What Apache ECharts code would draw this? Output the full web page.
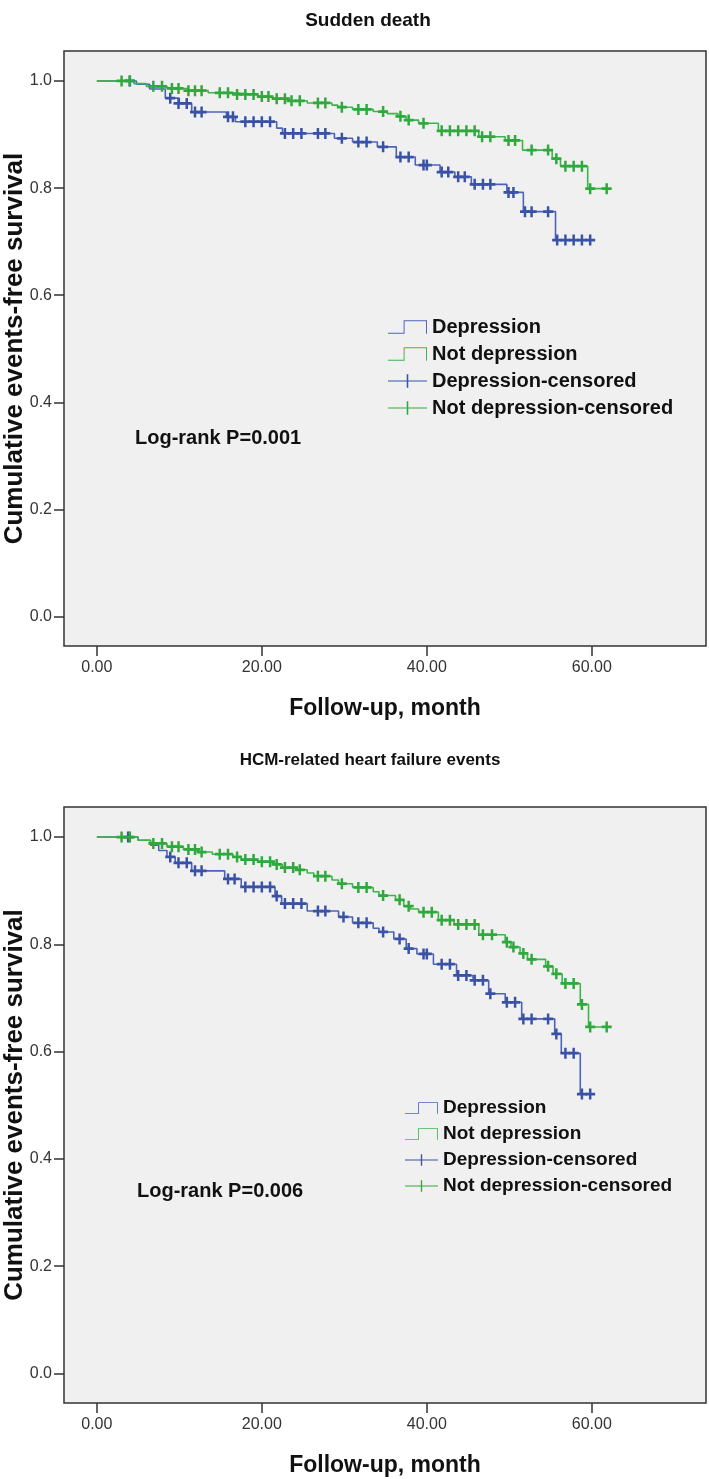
<!DOCTYPE html>
<html>
<head>
<meta charset="utf-8">
<script src="https://cdn.jsdelivr.net/npm/echarts@6/dist/echarts.min.js"></script>
<style>
html,body{margin:0;padding:0;background:#fff;}
#c{width:709px;height:1479px;}
</style>
</head>
<body>
<div id="c"></div>
<script>
// ---------- data (months, survival) ----------
const xTicks = [0, 20, 40, 60];
const yTicks = [0, 0.2, 0.4, 0.6, 0.8, 1.0];
const seriesNames = ['Depression', 'Not depression', 'Depression-censored', 'Not depression-censored'];
const chartTitles = ['Sudden death', 'HCM-related heart failure events'];
const logRankTexts = ['Log-rank P=0.001', 'Log-rank P=0.006'];

// Sudden death — Depression
const sdDepT = [0, 4.8, 6.4, 8.3, 10.0, 11.5, 15.7, 16.8, 21.8, 22.5, 28.8, 31.0, 34.0, 36.3, 38.6, 41.6, 43.4, 45.4, 49.7, 51.7, 55.6, 59.8];
const sdDepS = [1.0, 0.994, 0.985, 0.968, 0.958, 0.942, 0.933, 0.924, 0.912, 0.902, 0.893, 0.886, 0.877, 0.858, 0.843, 0.830, 0.821, 0.807, 0.792, 0.756, 0.703, 0.703];
const sdDepCensT = [4.0, 8.9, 9.9, 10.9, 11.9, 12.7, 15.9, 16.5, 18.0, 19.0, 20.0, 21.0, 22.8, 23.8, 24.8, 26.8, 27.7, 29.7, 31.7, 32.7, 34.7, 36.8, 37.8, 39.6, 40.0, 41.8, 42.6, 43.8, 44.6, 45.8, 46.8, 47.7, 49.9, 50.5, 51.9, 52.7, 54.7, 55.8, 56.8, 57.8, 58.8, 59.8];
const sdDepCensS = [1.0, 0.968, 0.958, 0.958, 0.942, 0.942, 0.933, 0.933, 0.924, 0.924, 0.924, 0.924, 0.902, 0.902, 0.902, 0.902, 0.902, 0.893, 0.886, 0.886, 0.877, 0.858, 0.858, 0.843, 0.843, 0.830, 0.830, 0.821, 0.821, 0.807, 0.807, 0.807, 0.792, 0.792, 0.756, 0.756, 0.756, 0.703, 0.703, 0.703, 0.703, 0.703];

// Sudden death — Not depression
const sdNotT = [0, 4.5, 6.0, 8.5, 11.0, 13.5, 16.5, 19.5, 21.3, 23.2, 25.5, 28.5, 29.2, 31.0, 33.5, 35.2, 36.5, 37.5, 39.0, 41.4, 46.3, 49.5, 51.6, 55.2, 56.2, 59.5, 61.8];
const sdNotS = [1.0, 0.995, 0.990, 0.986, 0.982, 0.978, 0.975, 0.971, 0.967, 0.963, 0.959, 0.955, 0.951, 0.947, 0.943, 0.939, 0.934, 0.927, 0.921, 0.907, 0.896, 0.889, 0.871, 0.855, 0.841, 0.799, 0.799];
const sdNotCensT = [3.0, 4.0, 6.85, 7.9, 9.1, 9.9, 11.1, 11.9, 12.7, 14.9, 15.9, 17.0, 18.0, 19.0, 20.0, 20.8, 21.8, 22.8, 23.6, 24.6, 26.8, 27.7, 29.7, 31.7, 32.7, 34.7, 36.8, 37.8, 39.6, 41.8, 42.8, 43.8, 44.8, 45.8, 46.7, 47.7, 49.9, 50.7, 52.7, 54.7, 55.7, 56.8, 57.8, 58.8, 59.8, 61.8];
const sdNotCensS = [1.0, 1.0, 0.990, 0.990, 0.986, 0.986, 0.982, 0.982, 0.982, 0.978, 0.978, 0.975, 0.975, 0.975, 0.971, 0.971, 0.967, 0.967, 0.963, 0.963, 0.959, 0.959, 0.951, 0.947, 0.947, 0.943, 0.934, 0.927, 0.921, 0.907, 0.907, 0.907, 0.907, 0.907, 0.896, 0.896, 0.889, 0.889, 0.871, 0.871, 0.855, 0.841, 0.841, 0.841, 0.799, 0.799];

// Heart failure — Depression
const hfDepT = [0, 5.0, 6.5, 7.5, 8.5, 9.5, 11.5, 15.5, 17.5, 21.6, 22.4, 25.5, 29.3, 31.0, 33.5, 34.2, 36.0, 37.5, 38.8, 40.8, 43.6, 45.6, 47.5, 49.5, 51.5, 55.5, 56.3, 58.6, 59.8];
const hfDepS = [1.0, 0.994, 0.985, 0.975, 0.963, 0.952, 0.937, 0.922, 0.907, 0.890, 0.876, 0.862, 0.851, 0.840, 0.830, 0.823, 0.810, 0.792, 0.782, 0.763, 0.742, 0.733, 0.708, 0.692, 0.661, 0.633, 0.597, 0.521, 0.521];
const hfDepCensT = [3.8, 8.9, 9.9, 10.9, 11.9, 12.7, 15.9, 16.7, 18.0, 19.0, 20.0, 21.0, 21.8, 22.8, 23.8, 24.8, 26.8, 27.7, 29.9, 31.7, 32.7, 34.7, 36.7, 37.8, 39.6, 40.0, 41.8, 42.8, 43.8, 44.8, 45.8, 46.8, 47.7, 49.7, 50.7, 51.7, 52.7, 54.7, 55.7, 56.8, 57.8, 58.8, 59.8];
const hfDepCensS = [1.0, 0.963, 0.952, 0.952, 0.937, 0.937, 0.922, 0.922, 0.907, 0.907, 0.907, 0.907, 0.890, 0.876, 0.876, 0.876, 0.862, 0.862, 0.851, 0.840, 0.840, 0.823, 0.810, 0.792, 0.782, 0.782, 0.763, 0.763, 0.742, 0.742, 0.733, 0.733, 0.708, 0.692, 0.692, 0.661, 0.661, 0.661, 0.633, 0.597, 0.597, 0.521, 0.521];

// Heart failure — Not depression
const hfNotT = [0, 5.0, 6.5, 8.5, 10.5, 12.2, 14.0, 16.5, 17.5, 19.5, 21.3, 22.5, 24.2, 25.5, 26.3, 28.5, 29.3, 31.0, 33.5, 34.2, 36.2, 37.2, 38.0, 39.0, 41.4, 43.3, 46.3, 49.5, 50.2, 51.3, 52.2, 54.4, 55.3, 56.4, 58.6, 59.6, 61.8];
const hfNotS = [1.0, 0.994, 0.988, 0.982, 0.977, 0.972, 0.968, 0.963, 0.958, 0.954, 0.949, 0.943, 0.939, 0.933, 0.927, 0.920, 0.913, 0.906, 0.898, 0.891, 0.883, 0.871, 0.866, 0.860, 0.845, 0.837, 0.818, 0.804, 0.795, 0.783, 0.772, 0.759, 0.745, 0.727, 0.688, 0.646, 0.646];
const hfNotCensT = [3.0, 4.0, 6.85, 7.9, 9.1, 9.9, 11.1, 11.9, 12.7, 14.9, 15.9, 17.0, 18.0, 19.0, 20.0, 21.0, 21.8, 22.8, 23.8, 24.6, 26.8, 27.7, 29.7, 31.7, 32.7, 34.7, 36.7, 37.8, 39.6, 40.6, 41.8, 42.8, 43.8, 44.8, 45.8, 46.8, 47.9, 49.7, 50.5, 51.7, 52.7, 54.7, 55.7, 56.8, 57.8, 58.8, 59.8, 61.8];
const hfNotCensS = [1.0, 1.0, 0.988, 0.988, 0.982, 0.982, 0.977, 0.977, 0.972, 0.968, 0.968, 0.963, 0.958, 0.958, 0.954, 0.954, 0.949, 0.943, 0.943, 0.939, 0.927, 0.927, 0.913, 0.906, 0.906, 0.891, 0.883, 0.871, 0.860, 0.860, 0.845, 0.845, 0.837, 0.837, 0.837, 0.818, 0.818, 0.804, 0.795, 0.783, 0.772, 0.759, 0.745, 0.727, 0.727, 0.688, 0.646, 0.646];

// ---------- styling ----------
const FONT = '"Liberation Sans", Arial, Helvetica, sans-serif';
const BLUE_LINE = '#4d63b8';
const BLUE_MARK = '#3a52a6';
const GREEN_LINE = '#3db54a';
const GREEN_MARK = '#2fa83d';
const PLUS = 'path://M3.75,0H6.25V3.75H10V6.25H6.25V10H3.75V6.25H0V3.75H3.75Z';
const STEP_ICON = 'path://M0,13H16V0H40V14H39V1H17V14H0Z';
const CENS_ICON = 'path://M0,6.4H40V7.6H0Z M19.2,0H20.8V14H19.2Z';

const pairs = (t, s) => t.map((v, i) => [v, s[i]]);

const panels = [
  {dep: [sdDepT, sdDepS], not: [sdNotT, sdNotS], depC: [sdDepCensT, sdDepCensS], notC: [sdNotCensT, sdNotCensS]},
  {dep: [hfDepT, hfDepS], not: [hfNotT, hfNotS], depC: [hfDepCensT, hfDepCensS], notC: [hfNotCensT, hfNotCensS]}
];

const grids = [
  {left: 64, top: 51, width: 642, height: 595},
  {left: 64, top: 807, width: 642, height: 596}
];

function xAxis(i) {
  return {
    type: 'value', gridIndex: i, min: -3.98, max: 73.84, position: 'bottom',
    name: 'Follow-up, month', nameLocation: 'middle', nameGap: 51, nameMoveOverlap: false,
    nameTextStyle: {fontFamily: FONT, fontWeight: 'bold', fontSize: 23, color: '#111'},
    axisLine: {show: false, onZero: false},
    axisTick: {show: true, inside: false, length: 10, customValues: xTicks, lineStyle: {color: '#333', width: 1.5}},
    axisLabel: {show: true, margin: 14, customValues: xTicks, fontFamily: FONT, fontSize: 16, color: '#333', formatter: v => v.toFixed(2)},
    splitLine: {show: false}
  };
}
function yAxis(i) {
  return {
    type: 'value', gridIndex: i, min: -0.055, max: 1.056, position: 'left',
    name: 'Cumulative events-free survival', nameLocation: 'middle', nameGap: 36, nameRotate: 90, nameMoveOverlap: false,
    nameTextStyle: {fontFamily: FONT, fontWeight: 'bold', fontSize: 26, color: '#111'},
    axisLine: {show: false, onZero: false},
    axisTick: {show: true, inside: false, length: 10, customValues: yTicks, lineStyle: {color: '#333', width: 1.5}},
    axisLabel: {show: true, margin: 12, customValues: yTicks, fontFamily: FONT, fontSize: 16, color: '#333', formatter: v => v.toFixed(1)},
    splitLine: {show: false}
  };
}

const series = [];
panels.forEach((p, i) => {
  series.push({
    name: seriesNames[0], type: 'line', step: 'end', xAxisIndex: i, yAxisIndex: i,
    data: pairs(p.dep[0], p.dep[1]), showSymbol: false, symbol: 'none',
    lineStyle: {color: BLUE_LINE, width: 1.6}, itemStyle: {color: BLUE_LINE},
    emphasis: {disabled: true}, z: 2
  });
  series.push({
    name: seriesNames[1], type: 'line', step: 'end', xAxisIndex: i, yAxisIndex: i,
    data: pairs(p.not[0], p.not[1]), showSymbol: false, symbol: 'none',
    lineStyle: {color: GREEN_LINE, width: 1.6}, itemStyle: {color: GREEN_LINE},
    emphasis: {disabled: true}, z: 3
  });
  series.push({
    name: seriesNames[2], type: 'scatter', xAxisIndex: i, yAxisIndex: i,
    data: pairs(p.depC[0], p.depC[1]), symbol: PLUS, symbolSize: [10, 11],
    itemStyle: {color: BLUE_MARK, opacity: 1}, emphasis: {disabled: true}, z: 4
  });
  series.push({
    name: seriesNames[3], type: 'scatter', xAxisIndex: i, yAxisIndex: i,
    data: pairs(p.notC[0], p.notC[1]), symbol: PLUS, symbolSize: [10, 11],
    itemStyle: {color: GREEN_MARK, opacity: 1}, emphasis: {disabled: true}, z: 5
  });
});

function legend(left, top, fontSize, gap, iw) {
  return {
    orient: 'vertical', left: left, top: top, itemWidth: iw, itemHeight: 14, itemGap: gap,
    padding: 0, selectedMode: false,
    textStyle: {fontFamily: FONT, fontWeight: 'bold', fontSize: fontSize, color: '#111', lineHeight: 22},
    data: [
      {name: seriesNames[0], icon: STEP_ICON},
      {name: seriesNames[1], icon: STEP_ICON},
      {name: seriesNames[2], icon: CENS_ICON},
      {name: seriesNames[3], icon: CENS_ICON}
    ]
  };
}

const chart = echarts.init(document.getElementById('c'), null, {renderer: 'canvas'});
chart.setOption({
  animation: false,
  backgroundColor: '#ffffff',
  title: [
    {text: chartTitles[0], left: 363, top: 6, textAlign: 'center', textStyle: {fontFamily: FONT, fontWeight: 'bold', fontSize: 19, color: '#111'}},
    {text: chartTitles[1], left: 365, top: 747, textAlign: 'center', textStyle: {fontFamily: FONT, fontWeight: 'bold', fontSize: 17, color: '#111'}}
  ],
  grid: grids.map(g => Object.assign({show: true, backgroundColor: '#f0f0f0', borderColor: '#333', borderWidth: 1.5, containLabel: false, outerBoundsMode: 'none'}, g)),
  xAxis: [xAxis(0), xAxis(1)],
  yAxis: [yAxis(0), yAxis(1)],
  legend: [legend(388, 316, 20, 5, 39), legend(405, 1097, 19, 4, 33)],
  graphic: [
    {type: 'text', left: 135, top: 428, style: {text: logRankTexts[0], fontFamily: FONT, fontWeight: 'bold', fontSize: 20, fill: '#111'}},
    {type: 'text', left: 137, top: 1181, style: {text: logRankTexts[1], fontFamily: FONT, fontWeight: 'bold', fontSize: 20, fill: '#111'}}
  ],
  series: series
});
</script>
</body>
</html>
